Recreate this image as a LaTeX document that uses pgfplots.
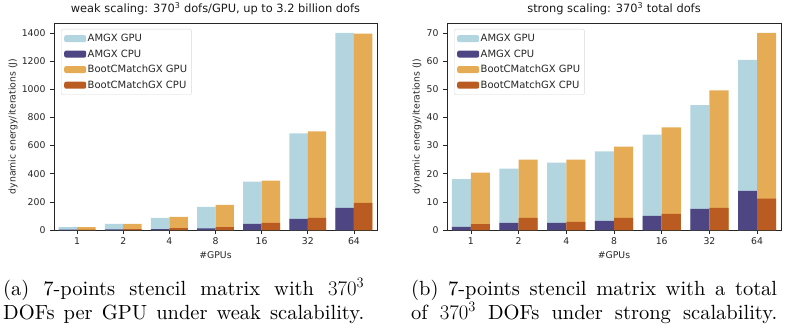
\documentclass[border=0pt]{standalone}
\usepackage{fontspec}
\usepackage{pgfplots}
\pgfplotsset{compat=1.18}
\newfontfamily\dv{DejaVu Sans}
\newfontfamily\capfont{lmroman10-regular}[Extension=.otf]
\definecolor{amgxgpu}{RGB}{179,213,224}
\definecolor{amgxcpu}{RGB}{78,69,131}
\definecolor{bootgpu}{RGB}{229,172,85}
\definecolor{bootcpu}{RGB}{186,92,34}
\newcommand{\sfont}{\dv\fontsize{9.3}{11}\selectfont}
\newcommand{\lfont}{\dv\fontsize{10}{12}\selectfont}
\pgfplotsset{
  mybar/.style={
    scale only axis, height=207pt,
    xmin=-0.5, xmax=6.5, ymin=0,
    xtick={0,...,6}, xticklabels={1,2,4,8,16,32,64},
    tick align=outside, tick pos=left,
    major tick length=4pt,
    axis line style={black!85, line width=0.7pt},
    tick style={black!85, line width=0.6pt},
    /pgf/number format/assume math mode=true,
    /pgf/number format/1000 sep={},
    ticklabel style={font=\sfont, text=black!85},
    yticklabel style={xshift=-1pt},
    every axis x label/.style={at={(axis description cs:0.5,0)}, anchor=center, yshift=-25pt, font=\sfont, text=black!85},
    title style={font=\dv\fontsize{11.4}{13}\selectfont, text=black!90, at={(axis description cs:0.5,1)}, anchor=base, yshift=4.5pt},
    xlabel={\#GPUs},
    ylabel={dynamic energy/iterations (J)},
    legend style={at={(axis description cs:0,1)}, anchor=north west, xshift=7pt, yshift=-6pt,
      draw=black!15, rounded corners=2pt, fill=white,
      font=\lfont, text=black!85,
      row sep=3.5pt, inner xsep=3pt, inner ysep=3.5pt,
      /tikz/every even column/.append style={column sep=5pt},
      nodes={inner sep=1.5pt}},
    legend cell align=left,
    legend image code/.code={\fill (0pt,-3.5pt) rectangle (22pt,3.5pt);},
  },
  gb/.style={ybar, bar width=0.4, draw=none, fill=#1},
}
\pgfplotstableread{
x amgxgpu amgxcpu bootgpu bootcpu
0 20   3   20   3
1 43   5   43   6
2 86   6   93   14
3 165  12  179  21
4 343  43  351  50
5 687  79  701  86
6 1400 157 1395 193
}\weak
\pgfplotstableread{
x amgxgpu amgxcpu bootgpu bootcpu
0 18.1 1.1 20.4 2.1
1 21.8 2.5 25.0 4.3
2 23.9 2.5 25.0 2.9
3 27.9 3.2 29.6 4.3
4 33.9 5.0 36.4 5.7
5 44.3 7.5 49.6 7.9
6 60.4 13.9 70.0 11.1
}\strong
\begin{document}
\begin{tikzpicture}
\path[use as bounding box] (0pt,0pt) rectangle (789pt,-334pt);
\begin{axis}[mybar, at={(54pt,-230pt)}, anchor=south west, width=323pt,
  ymax=1470, ytick={0,200,...,1400},
  every axis y label/.style={at={(axis description cs:0,0.5)}, rotate=90, anchor=center, yshift=41pt, font=\sfont, text=black!85},
  title={weak scaling: 370\textsuperscript{3} dofs/GPU, up to 3.2 billion dofs}]
\addplot[gb=amgxgpu, bar shift=-0.2] table[x=x,y=amgxgpu]{\weak};
\addplot[gb=amgxcpu, bar shift=-0.2] table[x=x,y=amgxcpu]{\weak};
\addplot[gb=bootgpu, bar shift=0.2] table[x=x,y=bootgpu]{\weak};
\addplot[gb=bootcpu, bar shift=0.2] table[x=x,y=bootcpu]{\weak};
\legend{AMGX GPU, AMGX CPU, BootCMatchGX GPU, BootCMatchGX CPU}
\end{axis}
\begin{axis}[mybar, at={(447pt,-230pt)}, anchor=south west, width=334pt,
  ymax=73.5, ytick={0,10,...,70},
  every axis y label/.style={at={(axis description cs:0,0.5)}, rotate=90, anchor=center, yshift=30pt, font=\sfont, text=black!85},
  title={strong scaling: 370\textsuperscript{3} total dofs}]
\addplot[gb=amgxgpu, bar shift=-0.2] table[x=x,y=amgxgpu]{\strong};
\addplot[gb=amgxcpu, bar shift=-0.2] table[x=x,y=amgxcpu]{\strong};
\addplot[gb=bootgpu, bar shift=0.2] table[x=x,y=bootgpu]{\strong};
\addplot[gb=bootcpu, bar shift=0.2] table[x=x,y=bootcpu]{\strong};
\legend{AMGX GPU, AMGX CPU, BootCMatchGX GPU, BootCMatchGX CPU}
\end{axis}
\begin{scope}[every node/.style={inner sep=0pt, anchor=base west, font=\capfont\fontsize{20.5}{25}\selectfont}]
\node at (3pt,-295pt) {\makebox[361pt][s]{(a) 7-points stencil matrix with $370^3$}};
\node at (3pt,-319pt) {\makebox[361pt][s]{DOFs per GPU under weak scalability.}};
\node at (411pt,-295pt) {\makebox[366pt][s]{(b) 7-points stencil matrix with a total}};
\node at (411pt,-319pt) {\makebox[366pt][s]{of $370^3$ DOFs under strong scalability.}};
\end{scope}
\end{tikzpicture}
\end{document}
